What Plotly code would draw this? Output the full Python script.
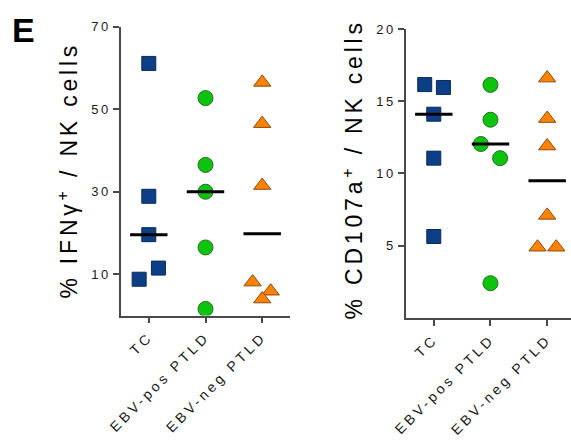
import numpy as np
import plotly.graph_objects as go

# ---------------- data ----------------
categories = ["TC", "EBV-pos PTLD", "EBV-neg PTLD"]

ifng_tc = [61.1, 28.9, 19.6, 8.8, 11.5]
ifng_pos = [52.7, 36.5, 30.0, 16.5, 1.6]
ifng_neg = [56.5, 46.5, 31.5, 8.1, 5.9, 4.0]

cd107_tc = [16.15, 15.95, 14.1, 11.06, 5.64]
cd107_pos = [16.13, 13.72, 12.04, 11.06, 2.41]
cd107_neg = [16.6, 13.8, 11.9, 7.1, 4.9, 4.9]

ifng_ticks = [10, 30, 50, 70]
cd107_ticks = [5, 10, 15, 20]

# horizontal scatter offsets (category units) to avoid overlap
ifng_tc_jit = [0, 0, 0, -0.17, 0.17]
ifng_pos_jit = [0, 0, 0, 0, 0]
ifng_neg_jit = [0, 0, 0, -0.17, 0.15, 0]
cd107_tc_jit = [-0.16, 0.17, 0, 0, 0]
cd107_pos_jit = [0, 0, -0.17, 0.17, 0]
cd107_neg_jit = [0, 0, 0, 0, -0.17, 0.16]

# ---------------- styles ----------------
W, H = 571, 443
FONT = "Liberation Sans, Arial, sans-serif"
styles = [
    dict(symbol="square", color="#0c3f87", line="#0a2a55", size=14),
    dict(symbol="circle", color="#0bc40b", line="#2a6a2a", size=15),
    dict(symbol="triangle-up", color="#ff8200", line="#8a4a10", size=15),
]

fig = go.Figure()


def add_panel(groups, jits, xa, ya):
    for i, (vals, jit) in enumerate(zip(groups, jits)):
        st = styles[i]
        fig.add_trace(go.Scatter(
            x=[i + j for j in jit], y=vals, mode="markers",
            marker=dict(symbol=st["symbol"], color=st["color"], size=st["size"],
                        line=dict(color=st["line"], width=1)),
            xaxis=xa, yaxis=ya, showlegend=False, hoverinfo="skip"))
        med = float(np.median(vals))
        fig.add_trace(go.Scatter(
            x=[i - 0.33, i + 0.33], y=[med, med], mode="lines",
            line=dict(color="black", width=3),
            xaxis=xa, yaxis=ya, showlegend=False, hoverinfo="skip"))


add_panel([ifng_tc, ifng_pos, ifng_neg], [ifng_tc_jit, ifng_pos_jit, ifng_neg_jit], "x", "y")
add_panel([cd107_tc, cd107_pos, cd107_neg], [cd107_tc_jit, cd107_pos_jit, cd107_neg_jit], "x2", "y2")

axcol = "#4a4a4a"
xcommon = dict(tickmode="array", tickvals=[0, 1, 2], ticktext=categories,
               tickangle=-45, ticks="outside", ticklen=6, tickwidth=1.5, tickcolor=axcol,
               showline=True, linecolor=axcol, linewidth=1.5, showgrid=False, zeroline=False,
               tickfont=dict(family=FONT, size=14, color="#1a1a1a"))
ycommon = dict(tickmode="array", ticks="outside", ticklen=6, tickwidth=1.5, tickcolor=axcol,
               showline=True, linecolor=axcol, linewidth=1.5, showgrid=False, zeroline=False,
               tickfont=dict(family=FONT, size=13, color="#1a1a1a"))

fig.update_layout(
    width=W, height=H, margin=dict(l=0, r=0, t=0, b=0),
    paper_bgcolor="white", plot_bgcolor="white",
    xaxis=dict(domain=[121 / W, 290 / W], range=[-0.49, 2.49], anchor="y", **xcommon),
    yaxis=dict(domain=[(H - 313.5) / H, (H - 20) / H], range=[0, 70], anchor="x",
               tickvals=ifng_ticks, **ycommon),
    xaxis2=dict(domain=[406 / W, 1.0], range=[-0.49, 2.42], anchor="y2", **xcommon),
    yaxis2=dict(domain=[(H - 316) / H, (H - 22.3) / H], range=[0, 20], anchor="x2",
                tickvals=cd107_ticks, **ycommon),
    annotations=[
        dict(text="<b>E</b>", x=10 / W, y=1 - 2 / H, xref="paper", yref="paper",
             xanchor="left", yanchor="top", showarrow=False,
             font=dict(family=FONT, size=34, color="black")),
        dict(text="% IFNγ<sup>+</sup> / NK cells", x=68 / W, y=1 - 166 / H,
             xref="paper", yref="paper", xanchor="center", yanchor="middle",
             textangle=-90, showarrow=False,
             font=dict(family=FONT, size=23, color="black")),
        dict(text="% CD107a<sup>+</sup> / NK cells", x=353 / W, y=1 - 165 / H,
             xref="paper", yref="paper", xanchor="center", yanchor="middle",
             textangle=-90, showarrow=False,
             font=dict(family=FONT, size=23, color="black")),
    ],
)

post = """
var de = document.documentElement, bd = document.body;
[de, bd].forEach(function(e){ e.style.margin='0'; e.style.padding='0'; e.style.height='443px'; e.style.overflow='hidden'; });
var gd = document.getElementById('{plot_id}');
gd.style.position = 'fixed'; gd.style.top = '0px'; gd.style.left = '0px';
gd.querySelectorAll('g.ytick text, g.y2tick text').forEach(function(t){t.style.letterSpacing='2.5px';});
gd.querySelectorAll('g.xtick text, g.x2tick text').forEach(function(t){t.style.letterSpacing='3.3px';});
gd.querySelectorAll('.annotation-text').forEach(function(t){ if (t.textContent.indexOf('NK') >= 0) { t.style.letterSpacing='3.8px'; } });
"""

fig.write_html("out.html", post_script=post, config={"displayModeBar": False})
